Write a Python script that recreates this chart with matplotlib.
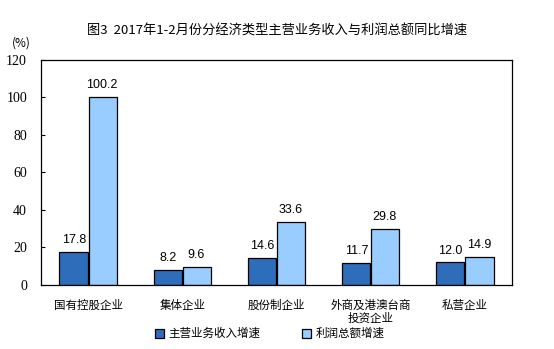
import matplotlib
matplotlib.use("Agg")
import matplotlib.pyplot as plt
import numpy as np
from matplotlib.patches import Patch

categories = ["国有控股企业", "集体企业", "股份制企业", "外商及港澳台商\n投资企业", "私营企业"]
revenue = [17.8, 8.2, 14.6, 11.7, 12.0]
profit = [100.2, 9.6, 33.6, 29.8, 14.9]
series_names = ["主营业务收入增速", "利润总额增速"]
yticks = [0, 20, 40, 60, 80, 100, 120]
title = "图3  2017年1-2月份分经济类型主营业务收入与利润总额同比增速"

cjk = ["Noto Sans CJK SC", "DejaVu Sans"]
c_dark = "#2E6DBA"
c_light = "#99CCFF"

fig = plt.figure(figsize=(5.54, 3.49), dpi=100)
ax = fig.add_axes([0.074, 0.1834, 0.850, 0.645])

x = np.arange(len(categories))
w = 0.30
ax.bar(x - w / 2 - 0.005, revenue, width=w, color=c_dark, edgecolor="black", linewidth=0.9)
ax.bar(x + w / 2 + 0.005, profit, width=w, color=c_light, edgecolor="black", linewidth=0.9)

for xi, v in zip(x, revenue):
    ax.text(xi - w / 2, v + 3, f"{v:.1f}", ha="center", va="bottom",
            fontsize=9, family="Liberation Sans")
for xi, v in zip(x, profit):
    ax.text(xi + w / 2, v + 3, f"{v:.1f}", ha="center", va="bottom",
            fontsize=9, family="Liberation Sans")

ax.set_xlim(-0.5, len(categories) - 0.5)
ax.set_ylim(0, 120)
ax.set_yticks(yticks)
ax.set_yticklabels([str(t) for t in yticks], family="Liberation Serif", fontsize=10)
ax.tick_params(axis="y", direction="in", length=3, width=0.8, pad=10)
ax.set_xticks(x)
ax.set_xticklabels(categories, family=cjk, fontsize=8.3, linespacing=1.0)
ax.tick_params(axis="x", length=0, pad=10)
for s in ax.spines.values():
    s.set_linewidth(0.9)

fig.text(0.5, 0.911, title, ha="center", va="center", fontsize=9.5, family=cjk)
fig.text(0.022, 0.877, "(%)", ha="left", va="center", fontsize=8.5, family=cjk)

handles = [Patch(facecolor=c_dark, edgecolor="black", linewidth=0.9),
           Patch(facecolor=c_light, edgecolor="black", linewidth=0.9)]
leg = fig.legend(handles, series_names, loc="center", bbox_to_anchor=(0.487, 0.044),
                 ncol=2, frameon=False, prop={"family": cjk, "size": 8.3},
                 handlelength=0.8, handleheight=0.8, handletextpad=0.4, columnspacing=3.6)

fig.savefig("out.png", dpi=100)
